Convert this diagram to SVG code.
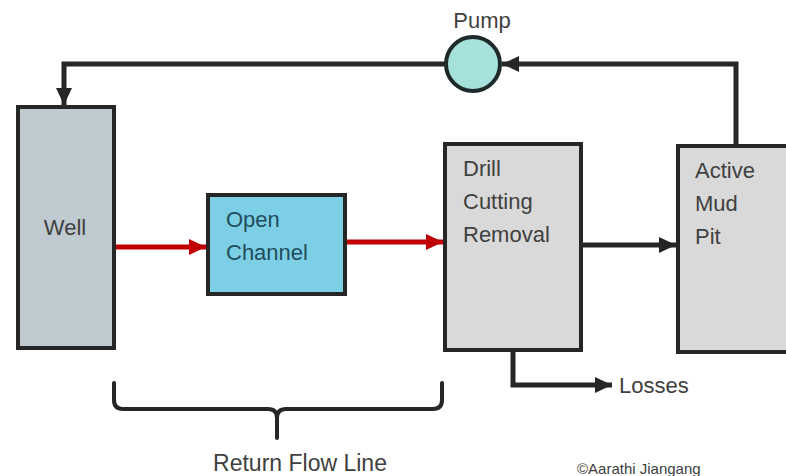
<svg xmlns="http://www.w3.org/2000/svg" width="786" height="476" viewBox="0 0 786 476">
<defs>
<style>
.box{stroke:#262626;stroke-width:4;}
.lbl{font-family:"Liberation Sans",Arial,sans-serif;font-size:22px;fill:#404040;}
.conn{fill:none;stroke:#262626;stroke-width:5;}
.red{fill:none;stroke:#c00000;stroke-width:5;}
</style>
<marker id="ah" markerUnits="userSpaceOnUse" markerWidth="18" markerHeight="16" refX="17" refY="8" orient="auto">
<path d="M0,0 L17,8 L0,16 z" fill="#262626"/>
</marker>
<marker id="ahr" markerUnits="userSpaceOnUse" markerWidth="18" markerHeight="16" refX="17" refY="8" orient="auto">
<path d="M0,0 L17,8 L0,16 z" fill="#c00000"/>
</marker>
</defs>
<rect width="786" height="476" fill="#ffffff"/>
<g id="connectors">
<path class="conn" d="M736,145 V64 H502" marker-end="url(#ah)"/>
<path class="conn" d="M446,64 H64 V105" marker-end="url(#ah)"/>
<path class="red" d="M114,247 H206" marker-end="url(#ahr)"/>
<path class="red" d="M346,242 H443" marker-end="url(#ahr)"/>
<path class="conn" d="M582,245 H676" marker-end="url(#ah)"/>
<path class="conn" d="M513,351 V385 H612" marker-end="url(#ah)"/>
</g>
<g id="well">
<rect class="box" x="18" y="107" width="96" height="241" fill="#bfcbd1"/>
<text class="lbl" x="65" y="235" text-anchor="middle">Well</text>
</g>
<g id="open-channel">
<rect class="box" x="208" y="195" width="137" height="99" fill="#7dcfe6"/>
<text class="lbl" x="226" y="227" style="fill:#1f4d5c">Open</text>
<text class="lbl" x="226" y="260" style="fill:#1f4d5c">Channel</text>
</g>
<g id="drill-cutting-removal">
<rect class="box" x="445" y="144" width="136" height="206" fill="#d9d9d9"/>
<text class="lbl" x="463" y="176">Drill</text>
<text class="lbl" x="463" y="209">Cutting</text>
<text class="lbl" x="463" y="242">Removal</text>
</g>
<g id="active-mud-pit">
<rect class="box" x="678" y="146" width="120" height="206" fill="#d9d9d9"/>
<text class="lbl" x="695" y="178">Active</text>
<text class="lbl" x="695" y="211">Mud</text>
<text class="lbl" x="695" y="244">Pit</text>
</g>
<g id="pump">
<circle cx="473" cy="64" r="27" fill="#a6e1dc" stroke="#1e2a2a" stroke-width="4"/>
<text class="lbl" x="482" y="28" text-anchor="middle">Pump</text>
</g>
<g id="losses">
<text class="lbl" x="619" y="393">Losses</text>
</g>
<g id="return-flow-line">
<path fill="none" stroke="#262626" stroke-width="4" stroke-linecap="round" d="M114,383 V400 Q114,409 123,409 H268 Q277,409 277,418 V438 M277,418 Q277,409 286,409 H433 Q442,409 442,400 V383"/>
<text class="lbl" x="300" y="471" text-anchor="middle" style="font-size:23px">Return Flow Line</text>
</g>
<text class="lbl" x="577" y="474" style="font-size:15px">©Aarathi Jiangang</text>
</svg>
